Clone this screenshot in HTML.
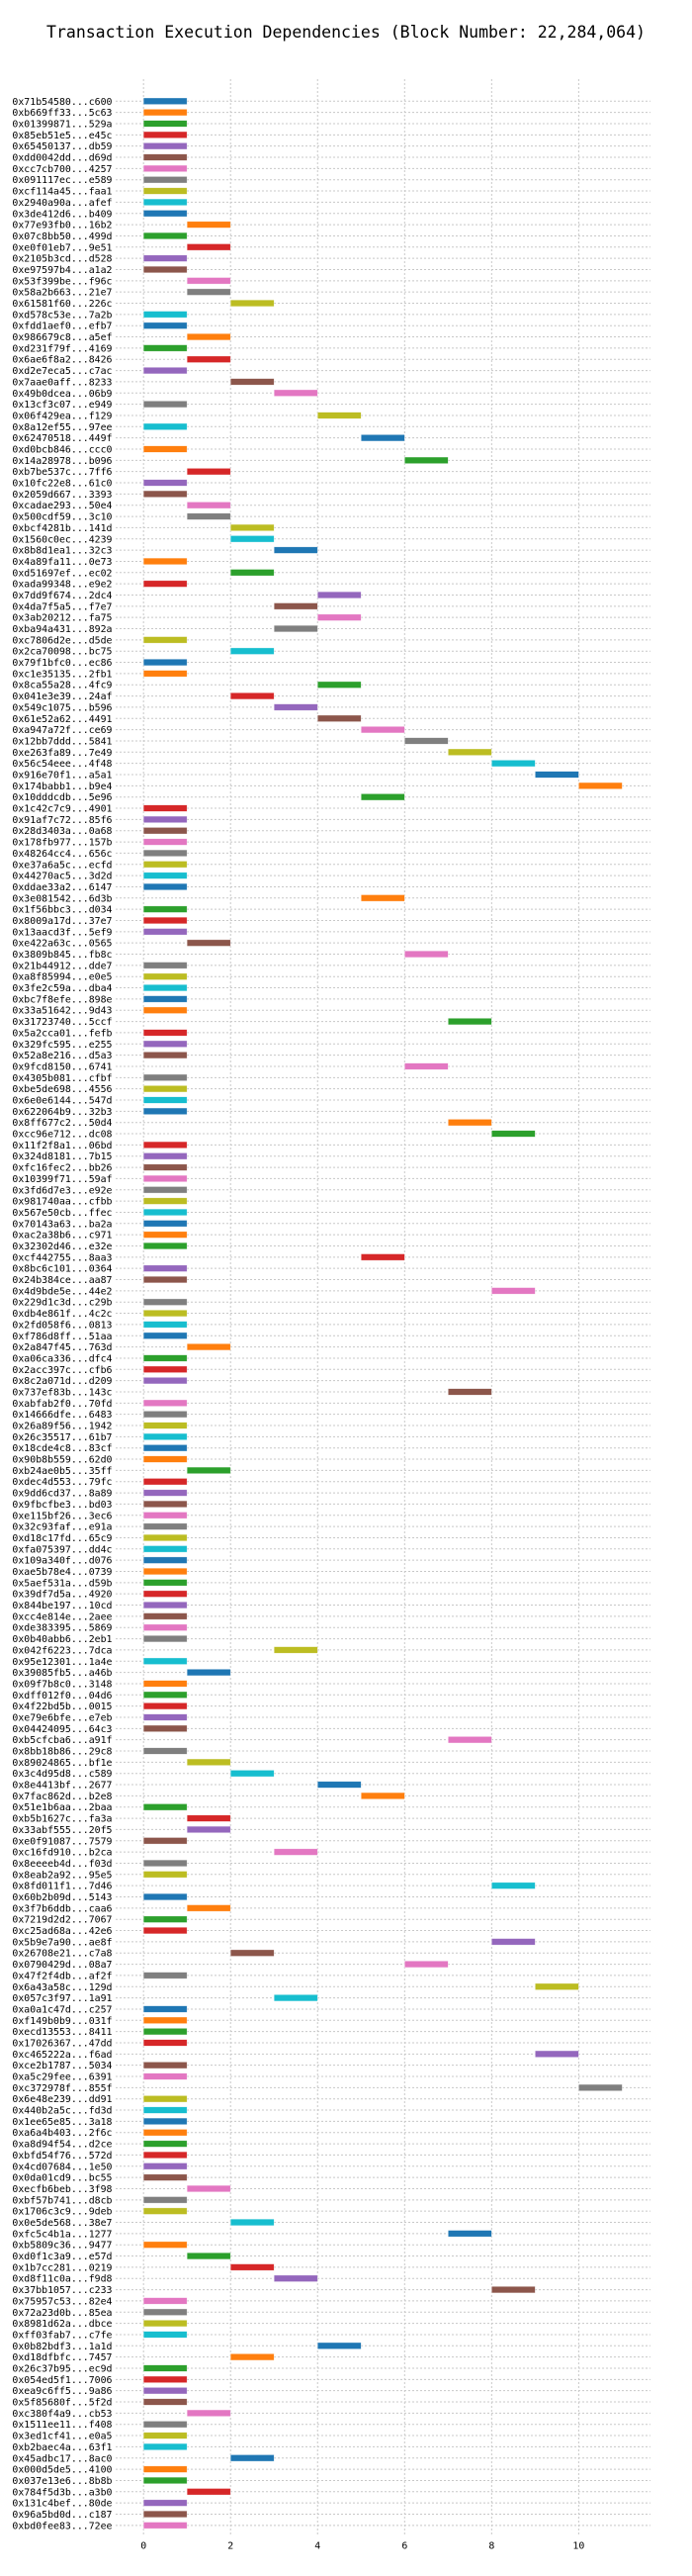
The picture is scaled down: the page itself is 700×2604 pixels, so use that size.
<!DOCTYPE html>
<html><head><meta charset="utf-8"><style>
html,body{margin:0;padding:0;background:#fff;}
svg{display:block;font-family:"DejaVu Sans Mono","Liberation Mono",monospace;}
</style></head><body>
<svg id="chart" width="700" height="2604" viewBox="0 0 700 2604" xmlns="http://www.w3.org/2000/svg">
<rect width="700" height="2604" fill="#fff"/>
<text x="350" y="38" text-anchor="middle" font-size="16.5" fill="#000">Transaction Execution Dependencies (Block Number: 22,284,064)</text>
<g id="grid"></g><g id="bars"></g><g id="labels"></g><g id="xticks"></g>
</svg>
<script>
const txLabels = ["0x71b54580...c600","0xb669ff33...5c63","0x01399871...529a","0x85eb51e5...e45c","0x65450137...db59","0xdd0042dd...d69d","0xcc7cb700...4257","0x091117ec...e589","0xcf114a45...faa1","0x2940a90a...afef","0x3de412d6...b409","0x77e93fb0...16b2","0x07c8bb50...499d","0xe0f01eb7...9e51","0x2105b3cd...d528","0xe97597b4...a1a2","0x53f399be...f96c","0x58a2b663...21e7","0x61581f60...226c","0xd578c53e...7a2b","0xfdd1aef0...efb7","0x986679c8...a5ef","0xd231f79f...4169","0x6ae6f8a2...8426","0xd2e7eca5...c7ac","0x7aae0aff...8233","0x49b0dcea...06b9","0x13cf3c07...e949","0x06f429ea...f129","0x8a12ef55...97ee","0x62470518...449f","0xd0bcb846...ccc0","0x14a28978...b096","0xb7be537c...7ff6","0x10fc22e8...61c0","0x2059d667...3393","0xcadae293...50e4","0x500cdf59...3c10","0xbcf4281b...141d","0x1560c0ec...4239","0x8b8d1ea1...32c3","0x4a89fa11...0e73","0xd51697ef...ec02","0xada99348...e9e2","0x7dd9f674...2dc4","0x4da7f5a5...f7e7","0x3ab20212...fa75","0xba94a431...892a","0xc7806d2e...d5de","0x2ca70098...bc75","0x79f1bfc0...ec86","0xc1e35135...2fb1","0x8ca55a28...4fc9","0x041e3e39...24af","0x549c1075...b596","0x61e52a62...4491","0xa947a72f...ce69","0x12bb7ddd...5841","0xe263fa89...7e49","0x56c54eee...4f48","0x916e70f1...a5a1","0x174babb1...b9e4","0x10dddcdb...5e96","0x1c42c7c9...4901","0x91af7c72...85f6","0x28d3403a...0a68","0x178fb977...157b","0x48264cc4...656c","0xe37a6a5c...ecfd","0x44270ac5...3d2d","0xddae33a2...6147","0x3e081542...6d3b","0x1f56bbc3...d034","0x8009a17d...37e7","0x13aacd3f...5ef9","0xe422a63c...0565","0x3809b845...fb8c","0x21b44912...dde7","0xa8f85994...e0e5","0x3fe2c59a...dba4","0xbc7f8efe...898e","0x33a51642...9d43","0x31723740...5ccf","0x5a2cca01...fefb","0x329fc595...e255","0x52a8e216...d5a3","0x9fcd8150...6741","0x4305b081...cfbf","0xbe5de698...4556","0x6e0e6144...547d","0x622064b9...32b3","0x8ff677c2...50d4","0xcc96e712...dc08","0x11f2f8a1...06bd","0x324d8181...7b15","0xfc16fec2...bb26","0x10399f71...59af","0x3fd6d7e3...e92e","0x981740aa...cfbb","0x567e50cb...ffec","0x70143a63...ba2a","0xac2a38b6...c971","0x32302d46...e32e","0xcf442755...8aa3","0x8bc6c101...0364","0x24b384ce...aa87","0x4d9bde5e...44e2","0x229d1c3d...c29b","0xdb4e861f...4c2c","0x2fd058f6...0813","0xf786d8ff...51aa","0x2a847f45...763d","0xa06ca336...dfc4","0x2acc397c...cfb6","0x8c2a071d...d209","0x737ef83b...143c","0xabfab2f0...70fd","0x14666dfe...6483","0x26a89f56...1942","0x26c35517...61b7","0x18cde4c8...83cf","0x90b8b559...62d0","0xb24ae0b5...35ff","0xdec4d553...79fc","0x9dd6cd37...8a89","0x9fbcfbe3...bd03","0xe115bf26...3ec6","0x32c93faf...e91a","0xd18c17fd...65c9","0xfa075397...dd4c","0x109a340f...d076","0xae5b78e4...0739","0x5aef531a...d59b","0x39df7d5a...4920","0x844be197...10cd","0xcc4e814e...2aee","0xde383395...5869","0x0b40abb6...2eb1","0x042f6223...7dca","0x95e12301...1a4e","0x39085fb5...a46b","0x09f7b8c0...3148","0xdff012f0...04d6","0x4f22bd5b...0015","0xe79e6bfe...e7eb","0x04424095...64c3","0xb5cfcba6...a91f","0x8bb18b86...29c8","0x89024865...bf1e","0x3c4d95d8...c589","0x8e4413bf...2677","0x7fac862d...b2e8","0x51e1b6aa...2baa","0xb5b1627c...fa3a","0x33abf555...20f5","0xe0f91087...7579","0xc16fd910...b2ca","0x8eeeeb4d...f03d","0x8eab2a92...95e5","0x8fd011f1...7d46","0x60b2b09d...5143","0x3f7b6ddb...caa6","0x7219d2d2...7067","0xc25ad68a...42e6","0x5b9e7a90...ae8f","0x26708e21...c7a8","0x0790429d...08a7","0x47f2f4db...af2f","0x6a43a58c...129d","0x057c3f97...1a91","0xa0a1c47d...c257","0xf149b0b9...031f","0xecd13553...8411","0x17026367...47dd","0xc465222a...f6ad","0xce2b1787...5034","0xa5c29fee...6391","0xc372978f...855f","0x6e48e239...dd91","0x440b2a5c...fd3d","0x1ee65e85...3a18","0xa6a4b403...2f6c","0xa8d94f54...d2ce","0xbfd54f76...572d","0x4cd07684...1e50","0x0da01cd9...bc55","0xecfb6beb...3f98","0xbf57b741...d8cb","0x1706c3c9...9deb","0x0e5de568...38e7","0xfc5c4b1a...1277","0xb5809c36...9477","0xd0f1c3a9...e57d","0x1b7cc281...0219","0xd8f11c0a...f9d8","0x37bb1057...c233","0x75957c53...82e4","0x72a23d0b...85ea","0x8981d62a...dbce","0xff03fab7...c7fe","0x0b82bdf3...1a1d","0xd18dfbfc...7457","0x26c37b95...ec9d","0x054ed5f1...7006","0xea9c6ff5...9a86","0x5f85680f...5f2d","0xc380f4a9...cb53","0x1511ee11...f408","0x3ed1cf41...e0a5","0xb2baec4a...63f1","0x45adbc17...8ac0","0x000d5de5...4100","0x037e13e6...8b8b","0x784f5d3b...a3b0","0x131c4bef...80de","0x96a5bd0d...c187","0xbd0fee83...72ee"];
const startSteps = [0,0,0,0,0,0,0,0,0,0,0,1,0,1,0,0,1,1,2,0,0,1,0,1,0,2,3,0,4,0,5,0,6,1,0,0,1,1,2,2,3,0,2,0,4,3,4,3,0,2,0,0,4,2,3,4,5,6,7,8,9,10,5,0,0,0,0,0,0,0,0,5,0,0,0,1,6,0,0,0,0,0,7,0,0,0,6,0,0,0,0,7,8,0,0,0,0,0,0,0,0,0,0,5,0,0,8,0,0,0,0,1,0,0,0,7,0,0,0,0,0,0,1,0,0,0,0,0,0,0,0,0,0,0,0,0,0,0,3,0,1,0,0,0,0,0,7,0,1,2,4,5,0,1,1,0,3,0,0,8,0,1,0,0,8,2,6,0,9,3,0,0,0,0,9,0,0,10,0,0,0,0,0,0,0,0,1,0,0,2,7,0,1,2,3,8,0,0,0,0,4,2,0,0,0,0,1,0,0,0,2,0,0,1,0,0,0];
const endSteps = [1,1,1,1,1,1,1,1,1,1,1,2,1,2,1,1,2,2,3,1,1,2,1,2,1,3,4,1,5,1,6,1,7,2,1,1,2,2,3,3,4,1,3,1,5,4,5,4,1,3,1,1,5,3,4,5,6,7,8,9,10,11,6,1,1,1,1,1,1,1,1,6,1,1,1,2,7,1,1,1,1,1,8,1,1,1,7,1,1,1,1,8,9,1,1,1,1,1,1,1,1,1,1,6,1,1,9,1,1,1,1,2,1,1,1,8,1,1,1,1,1,1,2,1,1,1,1,1,1,1,1,1,1,1,1,1,1,1,4,1,2,1,1,1,1,1,8,1,2,3,5,6,1,2,2,1,4,1,1,9,1,2,1,1,9,3,7,1,10,4,1,1,1,1,10,1,1,11,1,1,1,1,1,1,1,1,2,1,1,3,8,1,2,3,4,9,1,1,1,1,5,3,1,1,1,1,2,1,1,1,3,1,1,2,1,1,1];
const tickValues = [0,2,4,6,8,10];
const tickLabels = ["0","2","4","6","8","10"];
const palette = ["#1f77b4","#ff7f0e","#2ca02c","#d62728","#9467bd","#8c564b","#e377c2","#7f7f7f","#bcbd22","#17becf"];

const NS = "http://www.w3.org/2000/svg";
const axL = 117, axR = 658, axT = 80, axB = 2563;
const xMin = -0.64, xMax = 11.65;
const y0 = 102.3, rowStep = 11.345, barH = 6.6;
function xScale(v){ return axL + (v - xMin) / (xMax - xMin) * (axR - axL); }
function yScale(i){ return y0 + i * rowStep; }
function mk(tag, attrs, parent){ const e = document.createElementNS(NS, tag); for (const k in attrs) e.setAttribute(k, attrs[k]); parent.appendChild(e); return e; }

const grid = document.getElementById("grid"), bars = document.getElementById("bars"),
      labels = document.getElementById("labels"), xt = document.getElementById("xticks");

txLabels.forEach((lab, i) => {
  const y = yScale(i);
  const gl = mk("line", {x1: axL, x2: axR, y1: y, y2: y, stroke: "#c8c8c8", "stroke-width": 1, "stroke-dasharray": "2,2"}, grid);
  
  
  const t = mk("text", {x: 113.5, y: y + 3.5, "text-anchor": "end", "font-size": "9.9", fill: "#000"}, labels);
  t.textContent = lab;
  
  
});
tickValues.forEach((v, k) => {
  const x = xScale(v);
  const vl = mk("line", {x1: x, x2: x, y1: axT, y2: axB, stroke: "#c8c8c8", "stroke-width": 1, "stroke-dasharray": "2,2"}, grid);
  
  
  const t = mk("text", {x: x, y: 2576.5, "text-anchor": "middle", "font-size": "9.9", fill: "#000"}, xt);
  t.textContent = tickLabels[k];
  
  
});
txLabels.forEach((lab, i) => {
  const x1 = xScale(startSteps[i]), x2 = xScale(endSteps[i]);
  const r = mk("rect", {x: x1, y: yScale(i) - barH / 2, width: x2 - x1, height: barH, fill: palette[i % 10], stroke: "#ffffff", "stroke-opacity": 0.6, "stroke-width": 0.6}, bars);
  
  
});
</script>
</body></html>
